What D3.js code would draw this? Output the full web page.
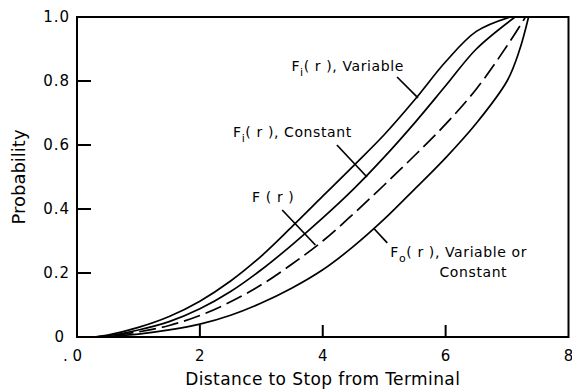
<!DOCTYPE html>
<html>
<head>
<script src="https://cdn.jsdelivr.net/npm/d3@7"></script>
<style>
  body { margin: 0; background: #fff; }
  text { font-family: "DejaVu Sans", sans-serif; fill: #000; }
</style>
</head>
<body>
<div id="chart"></div>
<script>
// curves (distance r, probability)
const varR   = [0.27, 0.5, 1, 1.5, 2, 2.5, 3, 3.5, 4, 4.5, 5, 5.5, 6, 6.5, 7.05];
const varP   = [0, 0.006, 0.03, 0.064, 0.112, 0.175, 0.253, 0.345, 0.44, 0.535, 0.632, 0.742, 0.86, 0.955, 1.0];
const constR = [0.27, 0.5, 1, 1.5, 2, 2.5, 3, 3.5, 4, 4.5, 5, 5.5, 6, 6.5, 7.13];
const constP = [0, 0.004, 0.022, 0.048, 0.088, 0.142, 0.21, 0.288, 0.372, 0.462, 0.562, 0.67, 0.785, 0.9, 1.0];
const fR     = [0.27, 0.5, 1, 1.5, 2, 2.5, 3, 3.5, 4, 4.5, 5, 5.5, 6, 6.5, 7, 7.3];
const fP     = [0, 0.003, 0.016, 0.036, 0.067, 0.11, 0.163, 0.228, 0.3, 0.385, 0.475, 0.568, 0.665, 0.775, 0.91, 1.0];
const foR    = [0.27, 0.5, 1, 1.5, 2, 2.5, 3, 3.5, 4, 4.5, 5, 5.5, 6, 6.5, 7, 7.2, 7.35];
const foP    = [0, 0.002, 0.009, 0.022, 0.04, 0.068, 0.106, 0.153, 0.21, 0.283, 0.368, 0.463, 0.56, 0.668, 0.8, 0.895, 1.0];

const xTicks = [0, 2, 4, 6, 8];
const xTickLabels = [". 0", "2", "4", "6", "8"];
const yTicks = [0, 0.2, 0.4, 0.6, 0.8, 1.0];
const yTickLabels = ["0", "0.2", "0.4", "0.6", "0.8", "1.0"];

// annotation labels: [r, p, main, sub, rest]
const labels = [
  [3.49, 0.831, "F", "i", "( r ), Variable"],
  [2.54, 0.625, "F", "i", "( r ), Constant"],
  [2.85, 0.422, "F ( r )", "", ""],
  [5.10, 0.250, "F", "o", "( r ), Variable or"],
  [5.90, 0.1875, "Constant", "", ""]
];
// leader lines: [r1, p1, r2, p2]
const leaders = [
  [5.21, 0.8125, 5.55, 0.747],
  [4.23, 0.600, 4.72, 0.500],
  [3.34, 0.397, 3.88, 0.2875],
  [5.05, 0.294, 4.84, 0.3375]
];

const width = 572, height = 390;
const x = d3.scaleLinear().domain([0, 8]).range([77, 568.5]);
const y = d3.scaleLinear().domain([0, 1]).range([337, 17]);

const svg = d3.select('#chart').append('svg')
  .attr('width', width).attr('height', height);

// frame
svg.append('rect')
  .attr('x', x(0)).attr('y', y(1))
  .attr('width', x(8) - x(0)).attr('height', y(0) - y(1))
  .attr('fill', 'none').attr('stroke', '#000').attr('stroke-width', 2);

// ticks (inside)
svg.selectAll('.yt').data(yTicks.slice(1, -1)).enter().append('line')
  .attr('x1', x(0)).attr('x2', x(0) + 14)
  .attr('y1', d => y(d)).attr('y2', d => y(d))
  .attr('stroke', '#000').attr('stroke-width', 2);
svg.selectAll('.xt').data(xTicks.slice(1, -1)).enter().append('line')
  .attr('x1', d => x(d)).attr('x2', d => x(d))
  .attr('y1', y(0)).attr('y2', y(0) - 12)
  .attr('stroke', '#000').attr('stroke-width', 2);

// tick labels
svg.selectAll('.yl').data(yTicks).enter().append('text')
  .attr('x', (d, i) => i === 0 ? x(0) - 12 : x(0) - 7)
  .attr('y', d => y(d))
  .attr('dy', '0.36em')
  .attr('text-anchor', 'end')
  .attr('font-size', 15)
  .attr('letter-spacing', 1)
  .text((d, i) => yTickLabels[i]);
svg.selectAll('.xl').data(xTicks).enter().append('text')
  .attr('x', (d, i) => i === 0 ? x(d) + 5 : x(d))
  .attr('y', 361)
  .attr('text-anchor', (d, i) => i === 0 ? 'end' : 'middle')
  .attr('font-size', 15)
  .text((d, i) => xTickLabels[i]);

// axis titles
svg.append('text')
  .attr('x', (x(0) + x(8)) / 2).attr('y', 385)
  .attr('text-anchor', 'middle').attr('font-size', 17)
  .attr('letter-spacing', 0.4)
  .text('Distance to Stop from Terminal');
svg.append('text')
  .attr('transform', 'translate(25,' + ((y(0) + y(1)) / 2) + ') rotate(-90)')
  .attr('text-anchor', 'middle').attr('font-size', 18)
  .text('Probability');

// curves
const line = d3.line().x(d => x(d[0])).y(d => y(d[1])).curve(d3.curveCatmullRom.alpha(0.5));
const series = [
  [varR, varP, null],
  [constR, constP, null],
  [fR, fP, '17,6'],
  [foR, foP, null]
];
series.forEach(s => {
  svg.append('path')
    .datum(s[0].map((r, i) => [r, s[1][i]]))
    .attr('d', line)
    .attr('fill', 'none')
    .attr('stroke', '#000')
    .attr('stroke-width', 1.7)
    .attr('stroke-dasharray', s[2]);
});

// leaders
svg.selectAll('.ld').data(leaders).enter().append('line')
  .attr('x1', d => x(d[0])).attr('y1', d => y(d[1]))
  .attr('x2', d => x(d[2])).attr('y2', d => y(d[3]))
  .attr('stroke', '#000').attr('stroke-width', 1.7);

// labels
labels.forEach(l => {
  const t = svg.append('text')
    .attr('x', x(l[0])).attr('y', y(l[1]))
    .attr('font-size', 14)
    .attr('letter-spacing', 0.6);
  t.append('tspan').text(l[2]);
  if (l[3]) {
    t.append('tspan').attr('font-size', 11).attr('dy', 5).text(l[3]);
    t.append('tspan').attr('dy', -5).text(l[4]);
  }
});
</script>
</body>
</html>
